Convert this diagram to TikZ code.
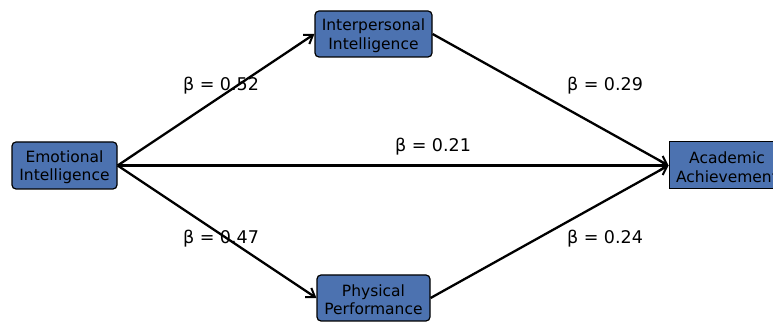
\documentclass[tikz,border=0pt]{standalone}
\usepackage{fontspec}
\setmainfont{DejaVu Sans}
\usetikzlibrary{arrows.meta}
\definecolor{boxblue}{HTML}{4C72B0}
\newcommand{\upstrut}{\rule{0pt}{15pt}}
\begin{document}
\begin{tikzpicture}[x=1pt,y=1pt,
  box/.style={draw=black,line width=1.2pt,fill=boxblue,rounded corners=4pt,inner sep=0pt,align=center,
    font=\fontsize{15.5}{18.5}\selectfont,minimum height=46pt},
  conn/.style={line width=2.3pt,-{Straight Barb[length=8pt,width=11pt,line width=2pt]}},
  lab/.style={font=\fontsize{17.5}{20}\selectfont,inner sep=0pt}]
\clip (0,0) rectangle (773,323);
\fill[white] (0,0) rectangle (773,323);
\node[box,minimum width=105pt,minimum height=47pt] (E) at (64.5,157.5) {\upstrut Emotional\\Intelligence};
\node[box,minimum width=117pt] (I) at (373.5,289) {\upstrut Interpersonal\\Intelligence};
\node[box,minimum width=113pt] (P) at (373.5,25) {\upstrut Physical\\Performance};
\node[box,rounded corners=0pt,line width=1pt,minimum width=116pt,minimum height=47pt] (A) at (727,157.5) {\upstrut Academic\\Achievement};
\draw[conn] (E.east) -- (I.west);
\draw[conn] (E.east) -- (P.west);
\draw[conn] (E.east) -- (A.west);
\draw[conn] (I.east) -- (A.west);
\draw[conn] (P.east) -- (A.west);
\node[lab] (l1) at (221,237.5) {β = 0.52};
\node[lab] (l2) at (605,237.5) {β = 0.29};
\node[lab] (l3) at (433,176.5) {β = 0.21};
\node[lab] (l4) at (221,84.5) {β = 0.47};
\node[lab] (l5) at (605,84.5) {β = 0.24};
\end{tikzpicture}
\end{document}
